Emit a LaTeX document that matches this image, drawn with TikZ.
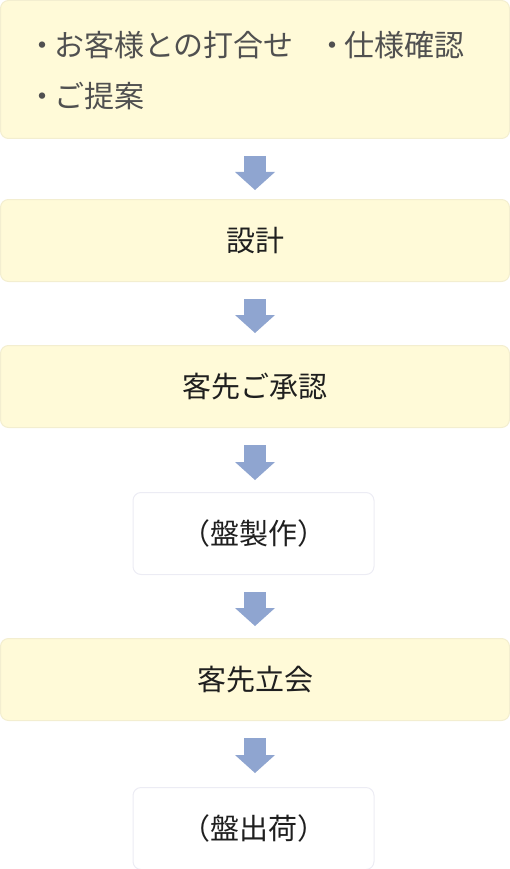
\documentclass[tikz,border=0pt]{standalone}
\usepackage{fontspec}
\setmainfont{Noto Sans CJK JP}
\usetikzlibrary{positioning,arrows.meta}
\definecolor{boxyellow}{RGB}{255,250,216}
\definecolor{boxyellowline}{RGB}{243,238,208}
\definecolor{boxwhiteline}{RGB}{236,236,244}
\definecolor{arrowblue}{RGB}{143,165,208}
\definecolor{textgray}{RGB}{80,80,80}

\begin{document}
\begin{tikzpicture}[
    x=1pt, y=1pt,
    box/.style={rectangle, draw, line width=1pt, rounded corners=8pt, minimum width=509pt, minimum height=82pt, inner sep=0pt, font=\fontsize{29}{34}\selectfont, text=black!88},
    stepyellow/.style={box, fill=boxyellow, draw=boxyellowline},
    stepwhite/.style={box, fill=white, draw=boxwhiteline, minimum width=241pt},
    item/.style={anchor=west, inner sep=0pt, font=\fontsize{30}{35}\selectfont, text=textgray},
    flow/.style={draw=arrowblue, line width=22pt, -{Triangle[width=40pt, length=18pt, line width=0pt]}, shorten <=17pt}
]
    % Frame
    \useasboundingbox (0,0) rectangle (510,-869);

    % Steps
    \node[stepyellow, minimum height=138pt, anchor=north] (hearing) at (255,0) {};
    \node[stepyellow, below=60pt of hearing] (design) {設計};
    \node[stepyellow, below=63pt of design] (approval) {客先ご承認};
    \node[stepwhite, below=64pt of approval, xshift=-1.5pt] (making) {（盤製作）};
    \node[stepyellow, below=63pt of making, xshift=1.5pt] (witness) {客先立会};
    \node[stepwhite, below=66pt of witness, xshift=-1.5pt] (shipping) {（盤出荷）};

    % Items of the first step
    \node[item] (meeting) at (27,-45) {・\hspace{-3pt}お客様との打合せ};
    \node[item] (spec) at (317,-45) {・\hspace{-3pt}仕様確認};
    \node[item] (proposal) at (27,-96) {・\hspace{-3pt}ご提案};

    % Arrows
    \draw[flow, shorten >=9pt] (hearing) -- (design);
    \draw[flow, shorten >=12pt] (design) -- (approval);
    \draw[flow, shorten >=12pt] (approval) -- (approval |- making.north);
    \draw[flow, shorten >=12pt] (approval |- making.south) -- (witness);
    \draw[flow, shorten >=14pt] (witness) -- (witness |- shipping.north);
\end{tikzpicture}
\end{document}
